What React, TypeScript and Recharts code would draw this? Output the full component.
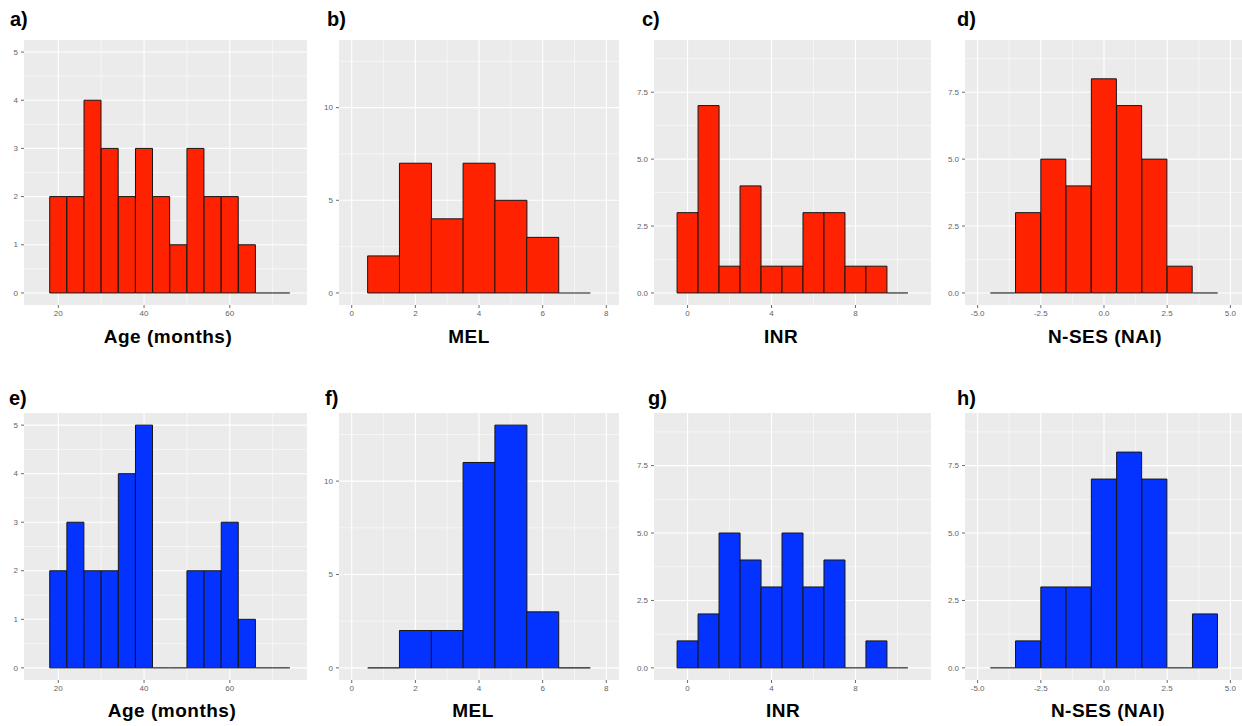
import React from 'react'
import { Bar, CartesianGrid, ComposedChart, ReferenceLine, XAxis, YAxis } from 'recharts'

const red = '#ff2200'
const blue = '#0433ff'
const barEdge = '#161616'
const panelBg = '#ebebeb'
const tickInk = '#636363'
const font = '"Liberation Sans", Arial, Helvetica, sans-serif'

// bin midpoints and counts, top row (red) and bottom row (blue)
const ageMids = [20, 24, 28, 32, 36, 40, 44, 48, 52, 56, 60, 64, 68, 72]
const ageTop = [2, 2, 4, 3, 2, 3, 2, 1, 3, 2, 2, 1, 0, 0]
const ageBottom = [2, 3, 2, 2, 4, 5, 0, 0, 2, 2, 3, 1, 0, 0]

const melMids = [1, 2, 3, 4, 5, 6, 7]
const melTop = [2, 7, 4, 7, 5, 3, 0]
const melBottom = [0, 2, 2, 11, 13, 3, 0]

const inrMids = [0, 1, 2, 3, 4, 5, 6, 7, 8, 9, 10]
const inrTop = [3, 7, 1, 4, 1, 1, 3, 3, 1, 1, 0]
const inrBottom = [1, 2, 5, 4, 3, 5, 3, 4, 0, 1, 0]

const nsesMids = [-4, -3, -2, -1, 0, 1, 2, 3, 4]
const nsesTop = [0, 3, 5, 4, 8, 7, 5, 1, 0]
const nsesBottom = [0, 1, 3, 3, 7, 8, 7, 0, 2]

// axis ticks (grid lines), majors get labels
const ageXTicks = [20, 30, 40, 50, 60, 70]
const ageXMajor = [20, 40, 60]
const ageYTicks = [0, 0.5, 1, 1.5, 2, 2.5, 3, 3.5, 4, 4.5, 5]
const ageYMajor = [0, 1, 2, 3, 4, 5]

const melXTicks = [0, 1, 2, 3, 4, 5, 6, 7, 8]
const melXMajor = [0, 2, 4, 6, 8]
const melYTicks = [0, 2.5, 5, 7.5, 10, 12.5]
const melYMajor = [0, 5, 10]

const inrXTicks = [0, 2, 4, 6, 8, 10]
const inrXMajor = [0, 4, 8]
const nineYTicks = [0, 1.25, 2.5, 3.75, 5, 6.25, 7.5, 8.75]
const nineYMajor = [0, 2.5, 5, 7.5]

const nsesXTicks = [-5, -3.75, -2.5, -1.25, 0, 1.25, 2.5, 3.75, 5]
const nsesXMajor = [-5, -2.5, 0, 2.5, 5]

const Y_AXIS_W = 24
const X_AXIS_H = 14

const gridLine = (props: any) => (
  <line
    key={props.key}
    x1={props.x1}
    x2={props.x2}
    y1={props.y1}
    y2={props.y2}
    stroke="#ffffff"
    strokeWidth={props.index % 2 === 0 ? 1.1 : 0.55}
  />
)

function XTick(props: any) {
  const { x, y, payload, majors, digits } = props
  if (!majors.includes(payload.value)) return null
  return (
    <g>
      <line x1={x} x2={x} y1={y - 5} y2={y - 2} stroke="#444" strokeWidth={0.8} />
      <text x={x} y={y} dy="0.72em" textAnchor="middle" fontSize={8} fill={tickInk} fontFamily={font}>
        {payload.value.toFixed(digits)}
      </text>
    </g>
  )
}

function YTick(props: any) {
  const { x, y, payload, majors, digits } = props
  if (!majors.includes(payload.value)) return null
  return (
    <g>
      <line x1={x + 2} x2={x + 5} y1={y} y2={y} stroke="#444" strokeWidth={0.8} />
      <text x={x - 1} y={y} dy="0.34em" textAnchor="end" fontSize={8} fill={tickInk} fontFamily={font}>
        {payload.value.toFixed(digits)}
      </text>
    </g>
  )
}

type Panel = {
  tag: string
  title: string
  mids: number[]
  counts: number[]
  binWidth: number
  fill: string
  xDomain: [number, number]
  xTicks: number[]
  xMajor: number[]
  xDigits: number
  yDomain: [number, number]
  yTicks: number[]
  yMajor: number[]
  yDigits: number
  left: number
  top: number
  plotW: number
  plotH: number
  titleX: number
  titleTop: number
  tagX: number
  tagTop: number
}

const cols = [
  { left: 24, plotW: 283 },
  { left: 339, plotW: 280 },
  { left: 654, plotW: 277 },
  { left: 965, plotW: 278 },
]
const rows = [
  { top: 40, plotH: 265, titleTop: 327, tagTop: 9 },
  { top: 413, plotH: 267, titleTop: 701, tagTop: 388 },
]

const variables = [
  {
    title: 'Age (months)', mids: ageMids, counts: [ageTop, ageBottom], binWidth: 4,
    xDomain: [12, 78] as [number, number], xTicks: ageXTicks, xMajor: ageXMajor, xDigits: 0,
    yDomain: [-0.25, 5.25] as [number, number], yTicks: ageYTicks, yMajor: ageYMajor, yDigits: 0,
    titleX: [168, 172], tagX: [10, 9],
  },
  {
    title: 'MEL', mids: melMids, counts: [melTop, melBottom], binWidth: 1,
    xDomain: [-0.4, 8.4] as [number, number], xTicks: melXTicks, xMajor: melXMajor, xDigits: 0,
    yDomain: [-0.65, 13.65] as [number, number], yTicks: melYTicks, yMajor: melYMajor, yDigits: 0,
    titleX: [469, 473], tagX: [327, 325],
  },
  {
    title: 'INR', mids: inrMids, counts: [inrTop, inrBottom], binWidth: 1,
    xDomain: [-1.6, 11.6] as [number, number], xTicks: inrXTicks, xMajor: inrXMajor, xDigits: 0,
    yDomain: [-0.45, 9.45] as [number, number], yTicks: nineYTicks, yMajor: nineYMajor, yDigits: 1,
    titleX: [781, 783], tagX: [642, 648],
  },
  {
    title: 'N-SES (NAI)', mids: nsesMids, counts: [nsesTop, nsesBottom], binWidth: 1,
    xDomain: [-5.5, 5.5] as [number, number], xTicks: nsesXTicks, xMajor: nsesXMajor, xDigits: 1,
    yDomain: [-0.45, 9.45] as [number, number], yTicks: nineYTicks, yMajor: nineYMajor, yDigits: 1,
    titleX: [1105, 1108], tagX: [957, 957],
  },
]

const tags = [
  ['a)', 'b)', 'c)', 'd)'],
  ['e)', 'f)', 'g)', 'h)'],
]

const panels: Panel[] = []
rows.forEach((row, r) => {
  variables.forEach((v, c) => {
    panels.push({
      tag: tags[r][c],
      title: v.title,
      mids: v.mids,
      counts: v.counts[r],
      binWidth: v.binWidth,
      fill: r === 0 ? red : blue,
      xDomain: v.xDomain,
      xTicks: v.xTicks,
      xMajor: v.xMajor,
      xDigits: v.xDigits,
      yDomain: v.yDomain,
      yTicks: v.yTicks,
      yMajor: v.yMajor,
      yDigits: v.yDigits,
      left: cols[c].left,
      top: row.top,
      plotW: cols[c].plotW,
      plotH: row.plotH,
      titleX: v.titleX[r],
      titleTop: row.titleTop,
      tagX: v.tagX[r],
      tagTop: row.tagTop,
    })
  })
})

function HistPanel({ p }: { p: Panel }) {
  const data = p.mids.map((mid, i) => ({ mid, count: p.counts[i] }))
  const zeroBins = data.filter((d) => d.count === 0)

  return (
    <>
      <div
        style={{
          position: 'absolute',
          left: p.tagX,
          top: p.tagTop,
          fontFamily: font,
          fontWeight: 700,
          fontSize: 20,
          lineHeight: 1,
          color: '#000',
        }}
      >
        {p.tag}
      </div>
      <div style={{ position: 'absolute', left: p.left - Y_AXIS_W, top: p.top }}>
        <ComposedChart
          width={Y_AXIS_W + p.plotW}
          height={p.plotH + X_AXIS_H}
          data={data}
          margin={{ top: 0, right: 0, bottom: 0, left: 0 }}
          barCategoryGap={0}
          barGap={0}
        >
          <CartesianGrid fill={panelBg} stroke="#fff" syncWithTicks horizontal={gridLine} vertical={gridLine} />
          <XAxis
            type="number"
            dataKey="mid"
            domain={p.xDomain}
            ticks={p.xTicks}
            interval={0}
            allowDataOverflow
            axisLine={false}
            tickLine={false}
            tickSize={3}
            tickMargin={2}
            height={X_AXIS_H}
            tick={<XTick majors={p.xMajor} digits={p.xDigits} />}
          />
          <YAxis
            type="number"
            domain={p.yDomain}
            ticks={p.yTicks}
            interval={0}
            allowDataOverflow
            axisLine={false}
            tickLine={false}
            tickSize={3}
            tickMargin={2}
            width={Y_AXIS_W}
            tick={<YTick majors={p.yMajor} digits={p.yDigits} />}
          />
          <Bar dataKey="count" fill={p.fill} stroke={barEdge} strokeWidth={1} isAnimationActive={false} />
          {zeroBins.map((d) => (
            <ReferenceLine
              key={d.mid}
              segment={[
                { x: d.mid - p.binWidth / 2, y: 0 },
                { x: d.mid + p.binWidth / 2, y: 0 },
              ]}
              stroke={barEdge}
              strokeWidth={1.1}
            />
          ))}
        </ComposedChart>
      </div>
      <div
        style={{
          position: 'absolute',
          left: p.titleX - 100,
          width: 200,
          top: p.titleTop,
          textAlign: 'center',
          fontFamily: font,
          fontWeight: 700,
          fontSize: 19,
          letterSpacing: 0.5,
          lineHeight: 1,
          color: '#000',
        }}
      >
        {p.title}
      </div>
    </>
  )
}

export default function App() {
  return (
    <div
      style={{
        position: 'absolute',
        left: 0,
        top: 0,
        width: 1242,
        height: 726,
        overflow: 'hidden',
        background: '#fff',
      }}
    >
      {panels.map((p) => (
        <HistPanel key={p.tag} p={p} />
      ))}
    </div>
  )
}
